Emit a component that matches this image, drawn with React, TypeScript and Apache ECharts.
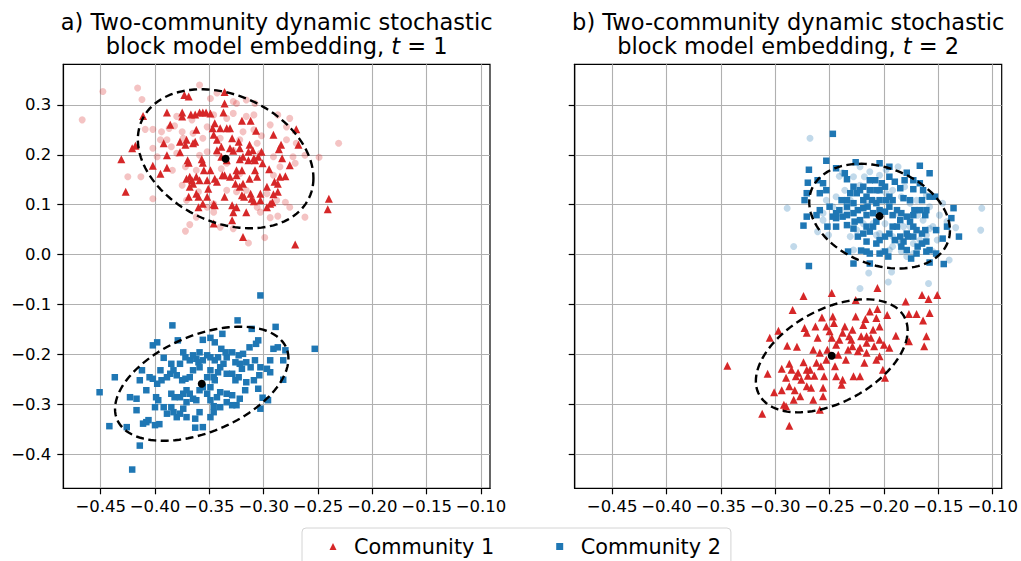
import React, { useEffect, useRef } from "react";
import * as echarts from "echarts";

// Axis ranges and tick positions (shared by both panels)
const X_RANGE = [-0.4844, -0.0917];
const Y_RANGE = [-0.4686, 0.3814];
const X_TICKS = [-0.45, -0.4, -0.35, -0.3, -0.25, -0.2, -0.15, -0.1];
const Y_TICKS = [-0.4, -0.3, -0.2, -0.1, 0, 0.1, 0.2, 0.3];

const PANEL_LABELS = ["a)", "b)"];
const PANEL_TIMES = ["1", "2"];
const LEGEND_NAMES = ["Community 1", "Community 2"];

// Embedding at t = 1
const t1Community1 = [
  [-0.431, 0.191], [-0.427, 0.126], [-0.421, 0.213], [-0.418, 0.218], [-0.411, 0.278], [-0.402, 0.178],
  [-0.395, 0.162], [-0.389, 0.174], [-0.392, 0.223], [-0.389, 0.285], [-0.386, 0.26], [-0.389, 0.199],
  [-0.377, 0.205], [-0.375, 0.285], [-0.375, 0.277], [-0.373, 0.32], [-0.369, 0.317], [-0.367, 0.281],
  [-0.363, 0.281], [-0.359, 0.285], [-0.356, 0.285], [-0.353, 0.285], [-0.349, 0.283], [-0.362, 0.25],
  [-0.363, 0.226], [-0.365, 0.223], [-0.372, 0.22], [-0.371, 0.23], [-0.377, 0.226], [-0.369, 0.184],
  [-0.368, 0.156], [-0.366, 0.149], [-0.365, 0.142], [-0.368, 0.136], [-0.369, 0.116], [-0.36, 0.116],
  [-0.36, 0.095], [-0.352, 0.116], [-0.351, 0.132], [-0.349, 0.169], [-0.355, 0.169], [-0.356, 0.184],
  [-0.357, 0.191], [-0.346, 0.24], [-0.347, 0.253], [-0.345, 0.263], [-0.343, 0.209], [-0.343, 0.23],
  [-0.34, 0.253], [-0.337, 0.285], [-0.336, 0.303], [-0.336, 0.326], [-0.334, 0.253], [-0.331, 0.253],
  [-0.329, 0.233], [-0.328, 0.208], [-0.323, 0.226], [-0.322, 0.191], [-0.322, 0.136], [-0.32, 0.169],
  [-0.319, 0.142], [-0.32, 0.119], [-0.318, 0.116], [-0.316, 0.085], [-0.313, 0.152], [-0.312, 0.122],
  [-0.311, 0.112], [-0.32, 0.268], [-0.312, 0.268], [-0.307, 0.248], [-0.31, 0.209], [-0.308, 0.189],
  [-0.308, 0.169], [-0.306, 0.156], [-0.305, 0.196], [-0.303, 0.122], [-0.303, 0.109], [-0.301, 0.183],
  [-0.297, 0.136], [-0.295, 0.171], [-0.292, 0.105], [-0.29, 0.146], [-0.287, 0.126], [-0.287, 0.142],
  [-0.291, 0.24], [-0.286, 0.211], [-0.284, 0.22], [-0.283, 0.193], [-0.28, 0.157], [-0.276, 0.179],
  [-0.27, 0.251], [-0.268, 0.22], [-0.319, 0.035], [-0.329, 0.099], [-0.328, 0.085], [-0.346, 0.062],
  [-0.345, 0.099], [-0.329, 0.069], [-0.271, 0.02], [-0.24, 0.112], [-0.241, 0.091], [-0.37, 0.189],
  [-0.334, 0.189], [-0.339, 0.196], [-0.336, 0.159], [-0.331, 0.156], [-0.345, 0.152], [-0.343, 0.146],
  [-0.326, 0.142], [-0.325, 0.159], [-0.319, 0.196], [-0.314, 0.189], [-0.309, 0.193], [-0.313, 0.22],
  [-0.314, 0.206], [-0.302, 0.206], [-0.297, 0.095], [-0.294, 0.102], [-0.285, 0.156], [-0.291, 0.121],
  [-0.309, 0.107], [-0.325, 0.095], [-0.336, 0.116], [-0.352, 0.149], [-0.359, 0.149], [-0.362, 0.156],
  [-0.371, 0.152], [-0.362, 0.122], [-0.356, 0.102], [-0.346, 0.101], [-0.338, 0.159], [-0.339, 0.216],
  [-0.331, 0.213], [-0.322, 0.213], [-0.325, 0.169],
];

const t1Community1Faded = [
  [-0.467, 0.27], [-0.448, 0.327], [-0.416, 0.334], [-0.412, 0.311], [-0.409, 0.251], [-0.413, 0.156],
  [-0.425, 0.156], [-0.402, 0.112], [-0.402, 0.251], [-0.398, 0.196], [-0.394, 0.246], [-0.387, 0.253],
  [-0.382, 0.258], [-0.38, 0.277], [-0.375, 0.246], [-0.385, 0.216], [-0.384, 0.169], [-0.359, 0.34],
  [-0.349, 0.313], [-0.343, 0.324], [-0.328, 0.307], [-0.325, 0.303], [-0.316, 0.31], [-0.308, 0.303],
  [-0.309, 0.28], [-0.294, 0.26], [-0.287, 0.28], [-0.276, 0.273], [-0.279, 0.256], [-0.27, 0.223],
  [-0.262, 0.199], [-0.249, 0.195], [-0.231, 0.223], [-0.262, 0.075], [-0.276, 0.095], [-0.287, 0.077],
  [-0.294, 0.074], [-0.299, 0.034], [-0.314, 0.023], [-0.328, 0.052], [-0.34, 0.055], [-0.368, 0.06],
  [-0.372, 0.047], [-0.346, 0.102], [-0.325, 0.126], [-0.36, 0.126], [-0.371, 0.109], [-0.375, 0.139],
  [-0.372, 0.176], [-0.362, 0.169], [-0.359, 0.199], [-0.352, 0.206], [-0.343, 0.203], [-0.339, 0.172],
  [-0.334, 0.183], [-0.328, 0.209], [-0.319, 0.246], [-0.334, 0.273], [-0.352, 0.256], [-0.365, 0.243],
  [-0.346, 0.28], [-0.328, 0.283], [-0.316, 0.277], [-0.306, 0.223], [-0.303, 0.203], [-0.291, 0.196],
  [-0.285, 0.176], [-0.279, 0.23], [-0.273, 0.196], [-0.271, 0.183], [-0.288, 0.109], [-0.28, 0.105],
  [-0.306, 0.095], [-0.303, 0.085], [-0.352, 0.095], [-0.346, 0.085], [-0.362, 0.075], [-0.322, 0.162],
  [-0.316, 0.129], [-0.297, 0.122], [-0.291, 0.159], [-0.334, 0.129], [-0.402, 0.213], [-0.395, 0.23],
  [-0.389, 0.23], [-0.38, 0.203], [-0.374, 0.233], [-0.366, 0.27], [-0.356, 0.233], [-0.34, 0.233],
  [-0.322, 0.23], [-0.309, 0.25], [-0.302, 0.238],
];

const t1Community2 = [
  [-0.303, -0.082], [-0.253, -0.189], [-0.289, -0.145], [-0.324, -0.132], [-0.311, -0.149], [-0.384, -0.142],
  [-0.398, -0.176], [-0.402, -0.182], [-0.379, -0.172], [-0.356, -0.171], [-0.349, -0.167], [-0.345, -0.176],
  [-0.338, -0.159], [-0.329, -0.196], [-0.323, -0.202], [-0.319, -0.199], [-0.307, -0.179], [-0.305, -0.172],
  [-0.313, -0.186], [-0.291, -0.189], [-0.287, -0.186], [-0.282, -0.212], [-0.28, -0.192], [-0.294, -0.212],
  [-0.297, -0.229], [-0.294, -0.236], [-0.303, -0.226], [-0.304, -0.242], [-0.305, -0.269], [-0.301, -0.287],
  [-0.296, -0.292], [-0.303, -0.309], [-0.282, -0.251], [-0.317, -0.272], [-0.322, -0.289], [-0.325, -0.302],
  [-0.329, -0.302], [-0.334, -0.279], [-0.34, -0.276], [-0.343, -0.286], [-0.346, -0.304], [-0.346, -0.316],
  [-0.349, -0.326], [-0.356, -0.346], [-0.363, -0.347], [-0.363, -0.329], [-0.371, -0.326], [-0.374, -0.309],
  [-0.377, -0.319], [-0.38, -0.326], [-0.383, -0.316], [-0.385, -0.306], [-0.389, -0.319], [-0.392, -0.306],
  [-0.397, -0.292], [-0.399, -0.286], [-0.4, -0.306], [-0.4, -0.342], [-0.396, -0.34], [-0.406, -0.332],
  [-0.408, -0.336], [-0.411, -0.339], [-0.414, -0.383], [-0.421, -0.431], [-0.426, -0.346], [-0.417, -0.312],
  [-0.414, -0.252], [-0.412, -0.232], [-0.408, -0.272], [-0.405, -0.246], [-0.402, -0.249], [-0.398, -0.259],
  [-0.394, -0.252], [-0.389, -0.246], [-0.386, -0.239], [-0.383, -0.232], [-0.38, -0.242], [-0.375, -0.252],
  [-0.372, -0.249], [-0.368, -0.246], [-0.365, -0.232], [-0.36, -0.216], [-0.359, -0.226], [-0.362, -0.209],
  [-0.368, -0.212], [-0.372, -0.206], [-0.377, -0.219], [-0.385, -0.219], [-0.392, -0.207], [-0.395, -0.232],
  [-0.385, -0.279], [-0.382, -0.286], [-0.377, -0.286], [-0.374, -0.279], [-0.371, -0.272], [-0.368, -0.279],
  [-0.365, -0.289], [-0.362, -0.292], [-0.359, -0.272], [-0.356, -0.266], [-0.352, -0.279], [-0.349, -0.266],
  [-0.352, -0.246], [-0.349, -0.232], [-0.346, -0.246], [-0.345, -0.252], [-0.342, -0.236], [-0.34, -0.226],
  [-0.337, -0.219], [-0.334, -0.239], [-0.329, -0.239], [-0.326, -0.252], [-0.323, -0.246], [-0.32, -0.229],
  [-0.322, -0.219], [-0.326, -0.216], [-0.334, -0.206], [-0.335, -0.196], [-0.339, -0.189], [-0.342, -0.206],
  [-0.345, -0.212], [-0.349, -0.206], [-0.352, -0.202], [-0.356, -0.212], [-0.359, -0.196], [-0.365, -0.202],
  [-0.374, -0.196], [-0.316, -0.216], [-0.312, -0.226], [-0.308, -0.212], [-0.309, -0.252], [-0.316, -0.256],
  [-0.437, -0.246], [-0.442, -0.344], [-0.451, -0.276], [-0.423, -0.286], [-0.417, -0.289], [-0.349, -0.292],
  [-0.34, -0.306], [-0.334, -0.296], [-0.329, -0.282], [-0.359, -0.316], [-0.371, -0.296],
];

// Embedding at t = 2
const t2Community1 = [
  [-0.344, -0.223], [-0.312, -0.319], [-0.307, -0.239], [-0.305, -0.167], [-0.301, -0.276], [-0.297, -0.153],
  [-0.294, -0.229], [-0.294, -0.272], [-0.292, -0.301], [-0.289, -0.183], [-0.287, -0.343], [-0.287, -0.219],
  [-0.285, -0.231], [-0.284, -0.111], [-0.283, -0.291], [-0.282, -0.272], [-0.28, -0.185], [-0.279, -0.237],
  [-0.276, -0.251], [-0.274, -0.216], [-0.274, -0.083], [-0.273, -0.147], [-0.271, -0.157], [-0.27, -0.243],
  [-0.268, -0.231], [-0.267, -0.267], [-0.265, -0.191], [-0.264, -0.243], [-0.263, -0.144], [-0.262, -0.217],
  [-0.261, -0.167], [-0.259, -0.197], [-0.258, -0.224], [-0.257, -0.126], [-0.256, -0.267], [-0.255, -0.244],
  [-0.253, -0.144], [-0.252, -0.191], [-0.25, -0.154], [-0.248, -0.167], [-0.248, -0.077], [-0.247, -0.124],
  [-0.246, -0.137], [-0.245, -0.224], [-0.244, -0.244], [-0.242, -0.201], [-0.241, -0.171], [-0.239, -0.261],
  [-0.238, -0.157], [-0.238, -0.251], [-0.236, -0.144], [-0.235, -0.211], [-0.233, -0.191], [-0.232, -0.164],
  [-0.23, -0.171], [-0.229, -0.151], [-0.228, -0.244], [-0.226, -0.124], [-0.224, -0.194], [-0.222, -0.244],
  [-0.221, -0.164], [-0.219, -0.141], [-0.218, -0.217], [-0.217, -0.129], [-0.216, -0.164], [-0.213, -0.114],
  [-0.21, -0.151], [-0.209, -0.184], [-0.207, -0.127], [-0.206, -0.109], [-0.206, -0.067], [-0.204, -0.204],
  [-0.204, -0.144], [-0.201, -0.231], [-0.2, -0.181], [-0.199, -0.247], [-0.197, -0.121], [-0.195, -0.187],
  [-0.189, -0.163], [-0.18, -0.094], [-0.177, -0.119], [-0.177, -0.174], [-0.17, -0.119], [-0.165, -0.081],
  [-0.164, -0.132], [-0.163, -0.184], [-0.161, -0.164], [-0.159, -0.089], [-0.158, -0.117], [-0.151, -0.081],
  [-0.226, -0.091], [-0.259, -0.311], [-0.29, -0.304], [-0.229, -0.184], [-0.222, -0.187], [-0.216, -0.177],
  [-0.244, -0.181], [-0.253, -0.211], [-0.271, -0.231], [-0.281, -0.244], [-0.287, -0.264], [-0.29, -0.247],
  [-0.271, -0.264], [-0.277, -0.284], [-0.265, -0.291], [-0.256, -0.284], [-0.216, -0.197], [-0.207, -0.211],
  [-0.204, -0.171], [-0.212, -0.167],
];

const t2Community2 = [
  [-0.247, 0.242], [-0.253, 0.188], [-0.269, 0.17], [-0.27, 0.144], [-0.271, 0.123], [-0.273, 0.109],
  [-0.271, 0.076], [-0.274, 0.058], [-0.269, -0.023], [-0.261, 0.149], [-0.259, 0.123], [-0.256, 0.143],
  [-0.253, 0.129], [-0.262, 0.079], [-0.244, 0.173], [-0.236, 0.163], [-0.234, 0.151], [-0.226, 0.185],
  [-0.228, 0.136], [-0.231, 0.123], [-0.234, 0.109], [-0.239, 0.109], [-0.241, 0.089], [-0.238, 0.076],
  [-0.244, 0.073], [-0.247, 0.076], [-0.25, 0.096], [-0.252, 0.056], [-0.244, 0.056], [-0.234, 0.059],
  [-0.228, 0.052], [-0.224, 0.036], [-0.219, 0.042], [-0.216, 0.056], [-0.213, 0.046], [-0.21, 0.056],
  [-0.207, 0.066], [-0.204, 0.089], [-0.199, 0.086], [-0.195, 0.096], [-0.192, 0.079], [-0.188, 0.056],
  [-0.185, 0.036], [-0.182, 0.026], [-0.178, 0.036], [-0.173, 0.036], [-0.169, 0.016], [-0.165, 0.022],
  [-0.161, 0.006], [-0.158, 0.009], [-0.152, 0.002], [-0.146, 0.032], [-0.142, 0.056], [-0.138, 0.073],
  [-0.136, 0.093], [-0.131, 0.036], [-0.145, -0.019], [-0.158, -0.016], [-0.175, -0.008], [-0.184, 0.016],
  [-0.196, -0.004], [-0.199, 0.006], [-0.213, -0.018], [-0.216, 0.006], [-0.221, 0.008], [-0.228, -0.018],
  [-0.233, 0.006], [-0.204, 0.183], [-0.195, 0.176], [-0.179, 0.164], [-0.167, 0.178], [-0.173, 0.131],
  [-0.185, 0.133], [-0.182, 0.113], [-0.176, 0.109], [-0.172, 0.089], [-0.167, 0.089], [-0.162, 0.079],
  [-0.161, 0.089], [-0.158, 0.116], [-0.153, 0.116], [-0.165, 0.109], [-0.19, 0.146], [-0.195, 0.156],
  [-0.199, 0.136], [-0.204, 0.129], [-0.208, 0.149], [-0.213, 0.149], [-0.219, 0.136], [-0.222, 0.129],
  [-0.225, 0.123], [-0.216, 0.116], [-0.211, 0.109], [-0.207, 0.103], [-0.215, 0.096], [-0.219, 0.093],
  [-0.224, 0.089], [-0.228, 0.083], [-0.227, 0.066], [-0.222, 0.069], [-0.216, 0.079], [-0.21, 0.083],
  [-0.204, 0.109], [-0.198, 0.109], [-0.195, 0.116], [-0.192, 0.109], [-0.188, 0.089], [-0.184, 0.083],
  [-0.179, 0.076], [-0.176, 0.066], [-0.173, 0.056], [-0.17, 0.049], [-0.165, 0.042], [-0.162, 0.049],
  [-0.161, 0.026], [-0.152, 0.049], [-0.192, 0.056], [-0.195, 0.042], [-0.199, 0.036], [-0.204, 0.029],
  [-0.207, 0.022], [-0.216, 0.026], [-0.19, 0.029], [-0.179, 0.042], [-0.173, 0.079], [-0.185, 0.069],
  [-0.219, 0.109], [-0.228, 0.103], [-0.234, 0.096], [-0.234, 0.079], [-0.259, 0.089], [-0.244, 0.083],
  [-0.207, 0.129], [-0.202, 0.143], [-0.213, 0.129], [-0.167, 0.143], [-0.164, 0.129], [-0.181, 0.149],
  [-0.173, 0.149], [-0.158, 0.163], [-0.179, 0.009], [-0.17, 0.002], [-0.204, 0.002], [-0.213, 0.002],
];

const t2Community2Faded = [
  [-0.268, 0.233], [-0.289, 0.093], [-0.283, 0.016], [-0.261, 0.046], [-0.256, 0.069], [-0.244, 0.116],
  [-0.241, 0.157], [-0.238, 0.164], [-0.236, 0.129], [-0.231, 0.109], [-0.228, 0.009], [-0.222, -0.068],
  [-0.214, -0.037], [-0.201, 0.006], [-0.196, -0.055], [-0.193, -0.035], [-0.188, 0.029], [-0.187, 0.176],
  [-0.179, -0.004], [-0.173, 0.002], [-0.159, -0.058], [-0.151, 0.029], [-0.14, -0.011], [-0.134, 0.054],
  [-0.11, 0.093], [-0.111, 0.049], [-0.158, 0.052], [-0.161, 0.039], [-0.155, 0.056], [-0.164, 0.069],
  [-0.167, 0.029], [-0.192, 0.016], [-0.204, 0.042], [-0.21, 0.062], [-0.219, 0.062], [-0.225, 0.049],
  [-0.231, 0.036], [-0.176, 0.056], [-0.182, 0.056], [-0.192, 0.036], [-0.185, 0.022], [-0.198, 0.123],
  [-0.192, 0.129], [-0.184, 0.116], [-0.176, 0.103], [-0.17, 0.109], [-0.161, 0.119], [-0.204, 0.159],
  [-0.198, 0.17], [-0.218, 0.156], [-0.222, 0.139], [-0.234, 0.089], [-0.247, 0.096], [-0.253, 0.109],
  [-0.256, 0.083], [-0.251, 0.039], [-0.149, 0.079], [-0.142, 0.066], [-0.188, 0.083], [-0.199, 0.062],
  [-0.21, 0.109], [-0.216, 0.103], [-0.204, 0.089], [-0.164, 0.022], [-0.173, 0.022], [-0.207, 0.039],
  [-0.181, 0.136], [-0.222, 0.176], [-0.213, 0.166], [-0.228, 0.156], [-0.169, 0.079], [-0.158, 0.096],
  [-0.146, 0.103], [-0.155, 0.006], [-0.195, 0.009], [-0.184, 0.006],
];

// Community means
const t1Means = [[-0.335, 0.192], [-0.357, -0.259]];
const t2Means = [[-0.248, -0.203], [-0.204, 0.077]];

// Covariance ellipses: centre plus two conjugate semi-axis vectors (data units)
const t1Ellipses = [
  { center: [-0.335, 0.192], u: [0.0808, -0.0388], v: [0, -0.1338] },
  { center: [-0.357, -0.259], u: [0.0798, 0.0506], v: [0, 0.1026] },
];
const t2Ellipses = [
  { center: [-0.248, -0.203], u: [0.0698, 0.0506], v: [0, 0.1014] },
  { center: [-0.204, 0.077], u: [0.0647, -0.0284], v: [0, -0.101] },
];

const RED = "#d62728";
const BLUE = "#1f77b4";
const RED_FADED = "rgba(214,39,40,0.28)";
const BLUE_FADED = "rgba(31,119,180,0.28)";
const FONT = '"DejaVu Sans", "Liberation Sans", sans-serif';

const GRIDS = [
  { left: 63.3, top: 64.3, width: 426.7, height: 424 },
  { left: 574.7, top: 64.3, width: 427, height: 424 },
];

const fmtX = (v: number) => (v < -1e-9 ? "\u2212" + Math.abs(v).toFixed(2) : Math.abs(v).toFixed(2));
const fmtY = (v: number) => (v < -1e-9 ? "\u2212" + Math.abs(v).toFixed(1) : Math.abs(v).toFixed(1));

function ellipseSeries(e: { center: number[]; u: number[]; v: number[] }, idx: number) {
  const STEPS = 120;
  return {
    type: "custom",
    xAxisIndex: idx,
    yAxisIndex: idx,
    silent: true,
    z: 5,
    data: [e.center],
    renderItem: (_params: any, api: any) => {
      const pts: number[][] = [];
      for (let k = 0; k < STEPS; k++) {
        const a = (2 * Math.PI * k) / STEPS;
        const c = Math.cos(a);
        const s = Math.sin(a);
        pts.push(
          api.coord([
            e.center[0] + c * e.u[0] + s * e.v[0],
            e.center[1] + c * e.u[1] + s * e.v[1],
          ])
        );
      }
      return {
        type: "polygon",
        shape: { points: pts },
        style: { fill: "none", stroke: "#000", lineWidth: 2.4, lineDash: [8, 4.5] },
      };
    },
  };
}

function scatter(name: string, idx: number, data: number[][], symbol: string, size: number, color: string, z = 2) {
  return {
    type: "scatter",
    name,
    xAxisIndex: idx,
    yAxisIndex: idx,
    symbol,
    symbolSize: size,
    itemStyle: { color, opacity: 1 },
    data,
    silent: true,
    z,
  };
}

export default function App() {
  const ref = useRef<HTMLDivElement>(null);

  useEffect(() => {
    if (!ref.current) return;
    const chart = echarts.init(ref.current, undefined, { renderer: "svg" });

    const xAxes = GRIDS.map((_, i) => ({
      type: "value",
      gridIndex: i,
      min: X_RANGE[0],
      max: X_RANGE[1],
      splitNumber: 8,
      axisLine: { show: true, onZero: false, lineStyle: { color: "#000", width: 1.2 } },
      axisTick: { show: true, length: 6, customValues: X_TICKS, lineStyle: { color: "#000", width: 1.2 } },
      axisLabel: {
        customValues: X_TICKS,
        formatter: fmtX,
        fontSize: 16.5,
        fontFamily: FONT,
        color: "#000",
        margin: 10,
      },
      splitLine: { show: true, lineStyle: { color: "#b0b0b0", width: 1.1 } },
    }));

    const yAxes = GRIDS.map((_, i) => ({
      type: "value",
      gridIndex: i,
      min: Y_RANGE[0],
      max: Y_RANGE[1],
      splitNumber: 8,
      axisLine: { show: true, onZero: false, lineStyle: { color: "#000", width: 1.2 } },
      axisTick: { show: true, length: 6, customValues: Y_TICKS, lineStyle: { color: "#000", width: 1.2 } },
      axisLabel: {
        show: i === 0,
        customValues: Y_TICKS,
        formatter: fmtY,
        fontSize: 16.5,
        fontFamily: FONT,
        color: "#000",
        margin: 12,
      },
      splitLine: { show: true, lineStyle: { color: "#b0b0b0", width: 1.1 } },
    }));

    const titles = GRIDS.map((g, i) => ({
      text:
        `{n|${PANEL_LABELS[i]} Two-community dynamic stochastic}\n` +
        `{n|block model embedding, }{i|t}{n| = ${PANEL_TIMES[i]}}`,
      left: g.left + g.width / 2,
      top: 9.5,
      padding: 0,
      textAlign: "center",
      textStyle: {
        fontWeight: "normal",
        lineHeight: 24,
        rich: {
          n: { fontSize: 22.5, fontFamily: FONT, fontWeight: "normal", color: "#000", lineHeight: 24 },
          i: {
            fontSize: 22.5,
            fontFamily: FONT,
            fontWeight: "normal",
            fontStyle: "italic",
            color: "#000",
            lineHeight: 24,
          },
        },
      },
    }));

    const series: any[] = [
      scatter(LEGEND_NAMES[0], 0, t1Community1, "triangle", 8, RED),
      scatter(LEGEND_NAMES[1], 0, t1Community2, "rect", 6.5, BLUE),
      scatter("Community 1 (faded)", 0, t1Community1Faded, "circle", 7, RED_FADED, 3),
      scatter(LEGEND_NAMES[0], 1, t2Community1, "triangle", 8, RED),
      scatter(LEGEND_NAMES[1], 1, t2Community2, "rect", 6.5, BLUE),
      scatter("Community 2 (faded)", 1, t2Community2Faded, "circle", 7, BLUE_FADED, 3),
      ellipseSeries(t1Ellipses[0], 0),
      ellipseSeries(t1Ellipses[1], 0),
      ellipseSeries(t2Ellipses[0], 1),
      ellipseSeries(t2Ellipses[1], 1),
      scatter("mean t1", 0, t1Means, "circle", 8, "#000", 6),
      scatter("mean t2", 1, t2Means, "circle", 8, "#000", 6),
    ];

    chart.setOption({
      animation: false,
      backgroundColor: "#fff",
      title: titles,
      grid: GRIDS.map((g) => ({
        ...g,
        show: true,
        borderColor: "#000",
        borderWidth: 1.2,
        backgroundColor: "transparent",
        containLabel: false,
        outerBoundsMode: "none",
      })),
      xAxis: xAxes,
      yAxis: yAxes,
      legend: {
        data: [
          { name: LEGEND_NAMES[0], icon: "triangle" },
          { name: LEGEND_NAMES[1], icon: "rect" },
        ],
        left: 302,
        top: 528,
        orient: "horizontal",
        itemWidth: 7,
        itemHeight: 7,
        itemGap: 62,
        padding: [8, 10, 24, 27.5],
        borderColor: "#d4d4d4",
        borderWidth: 1,
        borderRadius: 4,
        selectedMode: false,
        textStyle: { fontSize: 20.8, fontFamily: FONT, color: "#000", padding: [0, 0, 0, 12.5] },
      },
      series,
    });

    return () => chart.dispose();
  }, []);

  return (
    <div
      ref={ref}
      style={{ position: "absolute", left: 0, top: 0, width: 1021, height: 561, background: "#fff" }}
    />
  );
}
